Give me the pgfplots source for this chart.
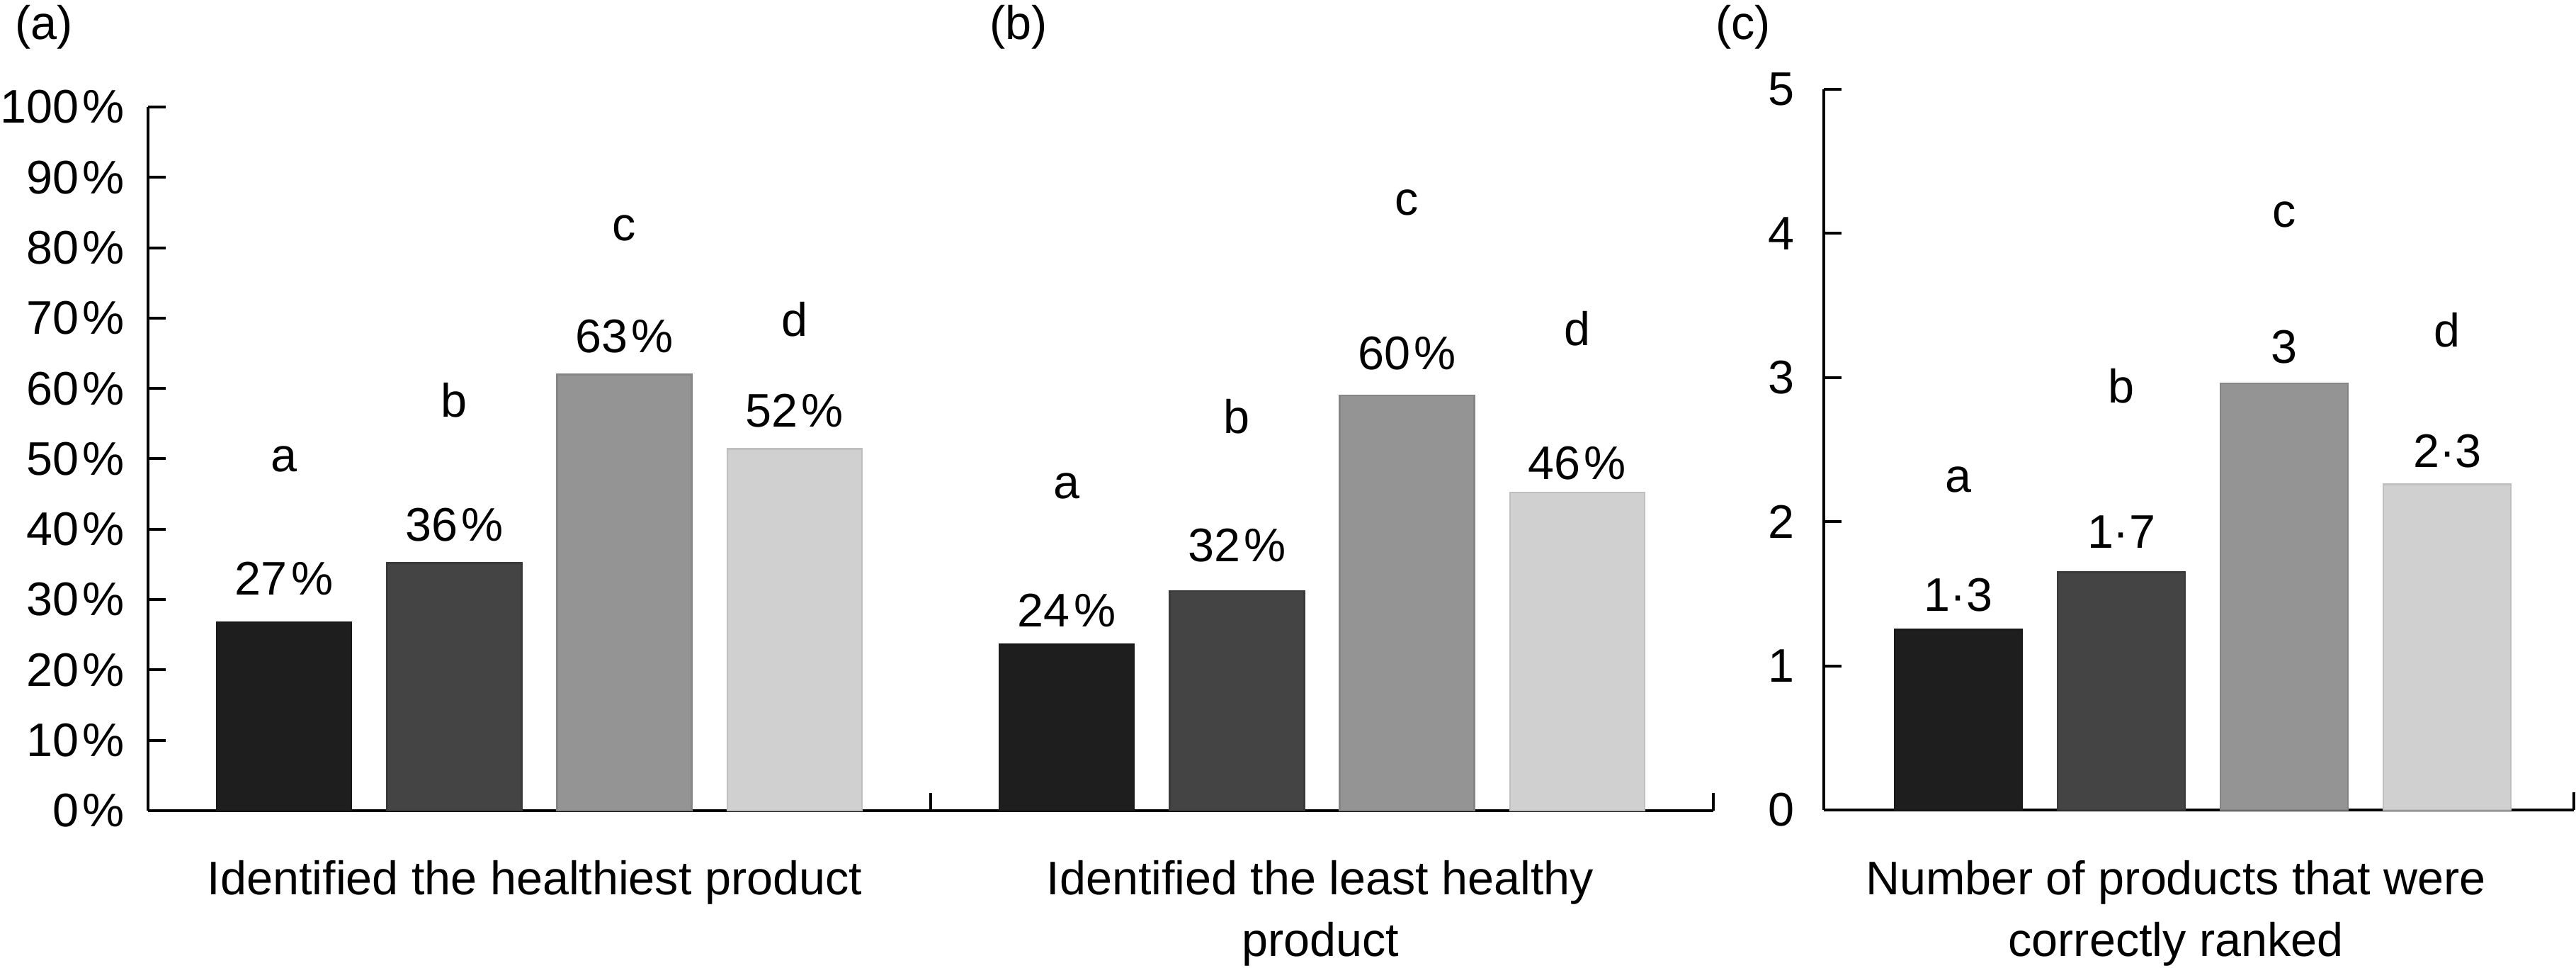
\documentclass[border=0pt]{standalone}
\usepackage{fontspec}
\setmainfont{Liberation Sans}
\usepackage{pgfplots}
\pgfplotsset{compat=1.18}
\definecolor{barA}{RGB}{30,30,30}
\definecolor{barB}{RGB}{68,68,68}
\definecolor{barC}{RGB}{148,148,148}
\definecolor{barD}{RGB}{208,208,208}
\newcommand{\pc}{\hspace{0.08em}\%}
\pgfplotsset{
  panel/.style={
    scale only axis, clip=false,
    axis x line=bottom, axis y line=left,
    axis line style={line width=0.8pt,-},
    tick align=inside,
    major tick length=5pt,
    every tick/.style={black,line width=0.8pt},
    tick label style={font=\fontsize{13.3}{16}\selectfont},
    yticklabel style={anchor=east, inner sep=0pt},
    anchor=south west,
  },
  bA/.style={ybar, bar shift=0pt, fill=barA, draw=barA!85!black, line width=0.5pt},
  bB/.style={ybar, bar shift=0pt, fill=barB, draw=barB!85!black, line width=0.5pt},
  bC/.style={ybar, bar shift=0pt, fill=barC, draw=barC!90!black, line width=0.5pt},
  bD/.style={ybar, bar shift=0pt, fill=barD, draw=barD!92!black, line width=0.5pt},
}
\begin{document}
\fontsize{13.3}{16}\selectfont
\begin{tikzpicture}[font=\fontsize{13.3}{16}\selectfont]
\useasboundingbox (0,0) rectangle (727.4pt,273pt);

% ---------- panel (a)
\begin{axis}[panel, at={(41.8pt,44.2pt)}, width=221pt, height=198.6pt,
  xmin=-0.8, xmax=3.8, ymin=0, ymax=100,
  xtick={3.8}, xticklabels={{}},
  ytick={0,10,20,30,40,50,60,70,80,90,100},
  yticklabels={0\pc,10\pc,20\pc,30\pc,40\pc,50\pc,60\pc,70\pc,80\pc,90\pc,100\pc},
  yticklabel style={xshift=-6.4pt},
  ]
\addplot[bA, bar width=38pt] coordinates {(0,26.8)};
\addplot[bB, bar width=38pt] coordinates {(1,35.2)};
\addplot[bC, bar width=38pt] coordinates {(2,62.0)};
\addplot[bD, bar width=38pt] coordinates {(3,51.4)};
\node[inner sep=0pt] at (axis cs:0,50.0) {a};
\node[inner sep=0pt] at (axis cs:1,58.3) {b};
\node[inner sep=0pt] at (axis cs:2,82.8) {c};
\node[inner sep=0pt] at (axis cs:3,69.8) {d};
\node[inner sep=0pt] at (axis cs:0,33.0) {27\pc};
\node[inner sep=0pt] at (axis cs:1,40.6) {36\pc};
\node[inner sep=0pt] at (axis cs:2,67.4) {63\pc};
\node[inner sep=0pt] at (axis cs:3,56.8) {52\pc};
\end{axis}

% ---------- panel (b)
\begin{axis}[panel, at={(262.8pt,44.2pt)}, width=221pt, height=198.6pt,
  axis y line=none,
  xmin=-0.8, xmax=3.8, ymin=0, ymax=100,
  xtick={-0.8,3.8}, xticklabels={{},{}}, ytick=\empty,
  ]
\addplot[bA, bar width=38pt] coordinates {(0,23.6)};
\addplot[bB, bar width=38pt] coordinates {(1,31.2)};
\addplot[bC, bar width=38pt] coordinates {(2,59.0)};
\addplot[bD, bar width=38pt] coordinates {(3,45.2)};
\node[inner sep=0pt] at (axis cs:0,46.1) {a};
\node[inner sep=0pt] at (axis cs:1,56.0) {b};
\node[inner sep=0pt] at (axis cs:2,86.4) {c};
\node[inner sep=0pt] at (axis cs:3,68.5) {d};
\node[inner sep=0pt] at (axis cs:0,28.5) {24\pc};
\node[inner sep=0pt] at (axis cs:1,37.7) {32\pc};
\node[inner sep=0pt] at (axis cs:2,65.0) {60\pc};
\node[inner sep=0pt] at (axis cs:3,49.4) {46\pc};
\end{axis}

% ---------- panel (c)
\begin{axis}[panel, at={(515pt,44.4pt)}, width=211.8pt, height=203.4pt,
  xmin=-0.826, xmax=3.778, ymin=0, ymax=5,
  xtick={3.778}, xticklabels={{}},
  ytick={0,1,2,3,4,5}, yticklabels={0,1,2,3,4,5},
  yticklabel style={xshift=-8.2pt},
  ]
\addplot[bA, bar width=36pt] coordinates {(0,1.25)};
\addplot[bB, bar width=36pt] coordinates {(1,1.65)};
\addplot[bC, bar width=36pt] coordinates {(2,2.96)};
\addplot[bD, bar width=36pt] coordinates {(3,2.26)};
\node[inner sep=0pt] at (axis cs:0,2.29) {a};
\node[inner sep=0pt] at (axis cs:1,2.94) {b};
\node[inner sep=0pt] at (axis cs:2,4.13) {c};
\node[inner sep=0pt] at (axis cs:3,3.33) {d};
\node[inner sep=0pt] at (axis cs:0,1.49) {1·3};
\node[inner sep=0pt] at (axis cs:1,1.93) {1·7};
\node[inner sep=0pt] at (axis cs:2,3.21) {3};
\node[inner sep=0pt] at (axis cs:3,2.49) {2·3};
\end{axis}

% ---------- axis titles
\node[anchor=base, inner sep=0pt] at (151pt,20.5pt) {Identified the healthiest product};
\node[anchor=base, inner sep=0pt] at (372.8pt,20.5pt) {Identified the least healthy};
\node[anchor=base, inner sep=0pt] at (372.8pt,3.2pt) {product};
\node[anchor=base, inner sep=0pt] at (614.4pt,20.5pt) {Number of products that were};
\node[anchor=base, inner sep=0pt] at (614.4pt,3.2pt) {correctly ranked};

% ---------- panel letters
\node[inner sep=0pt] at (12.4pt,265.4pt) {(a)};
\node[inner sep=0pt] at (287.6pt,265.4pt) {(b)};
\node[inner sep=0pt] at (492.2pt,265.4pt) {(c)};
\end{tikzpicture}
\end{document}
